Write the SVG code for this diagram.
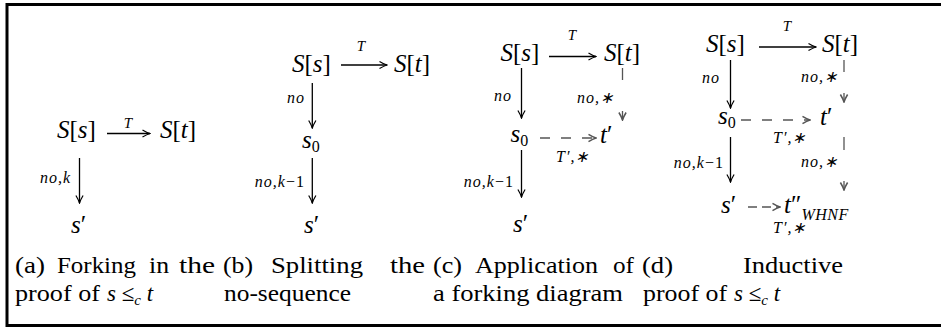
<svg xmlns="http://www.w3.org/2000/svg" width="941" height="327" viewBox="0 0 941 327">
<style>
.ar { stroke: #000; stroke-width: 1.5; fill: none; }
.arv { stroke: #000; stroke-width: 1.3; fill: none; }
.ds { stroke: #555; stroke-width: 1.3; fill: none; }
</style>
<defs>
<marker id="ah" viewBox="-9 -5 10 10" refX="0" refY="0" markerWidth="10" markerHeight="10" markerUnits="userSpaceOnUse" orient="auto">
<path d="M -7.5 -3.6 Q -3 -0.9 0 0 Q -3 0.9 -7.5 3.6" fill="none" stroke="#000" stroke-width="1.2"/>
</marker>
<marker id="ahg" viewBox="-9 -5 10 10" refX="0" refY="0" markerWidth="10" markerHeight="10" markerUnits="userSpaceOnUse" orient="auto">
<path d="M -7.5 -3.6 Q -3 -0.9 0 0 Q -3 0.9 -7.5 3.6" fill="none" stroke="#555" stroke-width="1.5"/>
</marker>
</defs>
<rect x="7" y="4.5" width="940" height="321" fill="none" stroke="#000" stroke-width="3"/>

<g id="connectors">
<line class="ar" x1="107" y1="133.5" x2="150" y2="133.5" marker-end="url(#ah)"/>
<line class="arv" x1="79.5" y1="158" x2="79.5" y2="203" marker-end="url(#ah)"/>
<line class="ar" x1="341" y1="65" x2="387" y2="65" marker-end="url(#ah)"/>
<line class="arv" x1="312.3" y1="83" x2="312.3" y2="128" marker-end="url(#ah)"/>
<line class="arv" x1="312.3" y1="158" x2="312.3" y2="203" marker-end="url(#ah)"/>
<line class="ar" x1="549" y1="56.5" x2="596" y2="56.5" marker-end="url(#ah)"/>
<line class="arv" x1="521.5" y1="68" x2="521.5" y2="118" marker-end="url(#ah)"/>
<line class="arv" x1="521.5" y1="150" x2="521.5" y2="197" marker-end="url(#ah)"/>
<line class="ds" x1="622.5" y1="68" x2="622.5" y2="80"/>
<line class="ds" x1="622.5" y1="111" x2="622.5" y2="120" marker-end="url(#ahg)"/>
<line class="ds" x1="540" y1="138" x2="596" y2="138" stroke-dasharray="10 11" marker-end="url(#ahg)"/>
<line class="ar" x1="759" y1="47" x2="816" y2="47" marker-end="url(#ah)"/>
<line class="arv" x1="730.5" y1="60" x2="730.5" y2="108" marker-end="url(#ah)"/>
<line class="arv" x1="730.5" y1="137" x2="730.5" y2="182" marker-end="url(#ah)"/>
<line class="ds" x1="844" y1="60" x2="844" y2="72"/>
<line class="ds" x1="844" y1="93" x2="844" y2="102" marker-end="url(#ahg)"/>
<line class="ds" x1="844" y1="137" x2="844" y2="150"/>
<line class="ds" x1="844" y1="181" x2="844" y2="190" marker-end="url(#ahg)"/>
<line class="ds" x1="741" y1="120" x2="810" y2="120" stroke-dasharray="10 11" marker-end="url(#ahg)"/>
<line class="ds" x1="748" y1="207" x2="780" y2="207" stroke-dasharray="9 5" marker-end="url(#ahg)"/>
</g>

<g id="a-Ss"><text font-family="Liberation Serif" font-size="25" x="57" y="138"><tspan font-style="italic">S</tspan>[<tspan font-style="italic">s</tspan>]</text></g>
<g id="a-St"><text font-family="Liberation Serif" font-size="25" x="160" y="138"><tspan font-style="italic">S</tspan>[<tspan font-style="italic">t</tspan>]</text></g>
<g id="a-sp"><text font-family="Liberation Serif" font-size="25" x="71" y="233"><tspan font-style="italic">s</tspan>′</text></g>
<g id="a-labels">
<text font-family="Liberation Serif" font-size="15" font-style="italic" x="128" y="128" text-anchor="middle">T</text>
<text font-family="Liberation Serif" font-size="16" font-style="italic" letter-spacing="1" x="71" y="183" text-anchor="end">no,k</text>
</g>

<g id="b-Ss"><text font-family="Liberation Serif" font-size="25" x="292" y="71.5"><tspan font-style="italic">S</tspan>[<tspan font-style="italic">s</tspan>]</text></g>
<g id="b-St"><text font-family="Liberation Serif" font-size="25" x="394" y="71.5"><tspan font-style="italic">S</tspan>[<tspan font-style="italic">t</tspan>]</text></g>
<g id="b-s0"><text font-family="Liberation Serif" font-size="25" x="302" y="148"><tspan font-style="italic">s</tspan><tspan font-size="16" dy="4">0</tspan></text></g>
<g id="b-sp"><text font-family="Liberation Serif" font-size="25" x="304" y="233"><tspan font-style="italic">s</tspan>′</text></g>
<g id="b-labels">
<text font-family="Liberation Serif" font-size="15" font-style="italic" x="361" y="51" text-anchor="middle">T</text>
<text font-family="Liberation Serif" font-size="16" font-style="italic" letter-spacing="1" x="305" y="103" text-anchor="end">no</text>
<text font-family="Liberation Serif" font-size="16" font-style="italic" letter-spacing="1" x="305" y="187" text-anchor="end">no,k<tspan font-style="normal">−1</tspan></text>
</g>

<g id="c-Ss"><text font-family="Liberation Serif" font-size="25" x="500.5" y="61"><tspan font-style="italic">S</tspan>[<tspan font-style="italic">s</tspan>]</text></g>
<g id="c-St"><text font-family="Liberation Serif" font-size="25" x="604" y="61"><tspan font-style="italic">S</tspan>[<tspan font-style="italic">t</tspan>]</text></g>
<g id="c-s0"><text font-family="Liberation Serif" font-size="25" x="510.5" y="142"><tspan font-style="italic">s</tspan><tspan font-size="16" dy="4">0</tspan></text></g>
<g id="c-tp"><text font-family="Liberation Serif" font-size="25" x="600" y="143"><tspan font-style="italic">t</tspan>′</text></g>
<g id="c-sp"><text font-family="Liberation Serif" font-size="25" x="513" y="232"><tspan font-style="italic">s</tspan>′</text></g>
<g id="c-labels">
<text font-family="Liberation Serif" font-size="15" font-style="italic" x="572" y="40" text-anchor="middle">T</text>
<text font-family="Liberation Serif" font-size="16" font-style="italic" letter-spacing="1" x="512" y="101" text-anchor="end">no</text>
<text font-family="Liberation Serif" font-size="16" font-style="italic" letter-spacing="1" x="614" y="103" text-anchor="end">no,∗</text>
<text font-family="Liberation Serif" font-size="16" font-style="italic" letter-spacing="1" x="556" y="162">T′,∗</text>
<text font-family="Liberation Serif" font-size="16" font-style="italic" letter-spacing="1" x="514" y="187" text-anchor="end">no,k<tspan font-style="normal">−1</tspan></text>
</g>

<g id="d-Ss"><text font-family="Liberation Serif" font-size="25" x="706" y="51.5"><tspan font-style="italic">S</tspan>[<tspan font-style="italic">s</tspan>]</text></g>
<g id="d-St"><text font-family="Liberation Serif" font-size="25" x="822" y="51.5"><tspan font-style="italic">S</tspan>[<tspan font-style="italic">t</tspan>]</text></g>
<g id="d-s0"><text font-family="Liberation Serif" font-size="25" x="718" y="124"><tspan font-style="italic">s</tspan><tspan font-size="16" dy="4">0</tspan></text></g>
<g id="d-tp"><text font-family="Liberation Serif" font-size="25" x="820" y="125"><tspan font-style="italic">t</tspan>′</text></g>
<g id="d-sp"><text font-family="Liberation Serif" font-size="25" x="721" y="213"><tspan font-style="italic">s</tspan>′</text></g>
<g id="d-tpp"><text font-family="Liberation Serif" font-size="25" x="784" y="213"><tspan font-style="italic">t</tspan>″<tspan font-size="16" font-style="italic" letter-spacing="0.5" dy="7">WHNF</tspan></text></g>
<g id="d-labels">
<text font-family="Liberation Serif" font-size="15" font-style="italic" x="787" y="31" text-anchor="middle">T</text>
<text font-family="Liberation Serif" font-size="16" font-style="italic" letter-spacing="1" x="720" y="83" text-anchor="end">no</text>
<text font-family="Liberation Serif" font-size="16" font-style="italic" letter-spacing="1" x="838" y="82" text-anchor="end">no,∗</text>
<text font-family="Liberation Serif" font-size="16" font-style="italic" letter-spacing="1" x="773" y="143">T′,∗</text>
<text font-family="Liberation Serif" font-size="16" font-style="italic" letter-spacing="1" x="724" y="168" text-anchor="end">no,k<tspan font-style="normal">−1</tspan></text>
<text font-family="Liberation Serif" font-size="16" font-style="italic" letter-spacing="1" x="838" y="167" text-anchor="end">no,∗</text>
<text font-family="Liberation Serif" font-size="16" font-style="italic" letter-spacing="1" x="773" y="233">T′,∗</text>
</g>

<g id="captions">
<text font-family="Liberation Serif" font-size="23" x="15" y="273" textLength="30" lengthAdjust="spacingAndGlyphs">(a)</text>
<text font-family="Liberation Serif" font-size="23" x="57" y="273" textLength="79" lengthAdjust="spacingAndGlyphs">Forking</text>
<text font-family="Liberation Serif" font-size="23" x="149" y="273" textLength="20" lengthAdjust="spacingAndGlyphs">in</text>
<text font-family="Liberation Serif" font-size="23" x="179" y="273" textLength="36" lengthAdjust="spacingAndGlyphs">the</text>
<text font-family="Liberation Serif" font-size="23" x="223" y="273" textLength="30" lengthAdjust="spacingAndGlyphs">(b)</text>
<text font-family="Liberation Serif" font-size="23" x="271" y="273" textLength="92" lengthAdjust="spacingAndGlyphs">Splitting</text>
<text font-family="Liberation Serif" font-size="23" x="390" y="273" textLength="35" lengthAdjust="spacingAndGlyphs">the</text>
<text font-family="Liberation Serif" font-size="23" x="433" y="273" textLength="29" lengthAdjust="spacingAndGlyphs">(c)</text>
<text font-family="Liberation Serif" font-size="23" x="475" y="273" textLength="123" lengthAdjust="spacingAndGlyphs">Application</text>
<text font-family="Liberation Serif" font-size="23" x="613" y="273" textLength="21" lengthAdjust="spacingAndGlyphs">of</text>
<text font-family="Liberation Serif" font-size="23" x="642" y="273" textLength="31" lengthAdjust="spacingAndGlyphs">(d)</text>
<text font-family="Liberation Serif" font-size="23" x="743" y="273" textLength="100" lengthAdjust="spacingAndGlyphs">Inductive</text>
<text font-family="Liberation Serif" font-size="23" x="15" y="301" textLength="85" lengthAdjust="spacingAndGlyphs">proof of</text>
<text font-family="Liberation Serif" font-size="23" x="107" y="301"><tspan font-style="italic">s</tspan> ≤<tspan font-size="15" font-style="italic" dy="4">c</tspan><tspan font-style="italic" dy="-4"> t</tspan></text>
<text font-family="Liberation Serif" font-size="23" x="224" y="301" textLength="127" lengthAdjust="spacingAndGlyphs">no-sequence</text>
<text font-family="Liberation Serif" font-size="23" x="433" y="301" textLength="190" lengthAdjust="spacingAndGlyphs">a forking diagram</text>
<text font-family="Liberation Serif" font-size="23" x="643" y="301" textLength="84" lengthAdjust="spacingAndGlyphs">proof of</text>
<text font-family="Liberation Serif" font-size="23" x="734" y="301"><tspan font-style="italic">s</tspan> ≤<tspan font-size="15" font-style="italic" dy="4">c</tspan><tspan font-style="italic" dy="-4"> t</tspan></text>
</g>
</svg>
